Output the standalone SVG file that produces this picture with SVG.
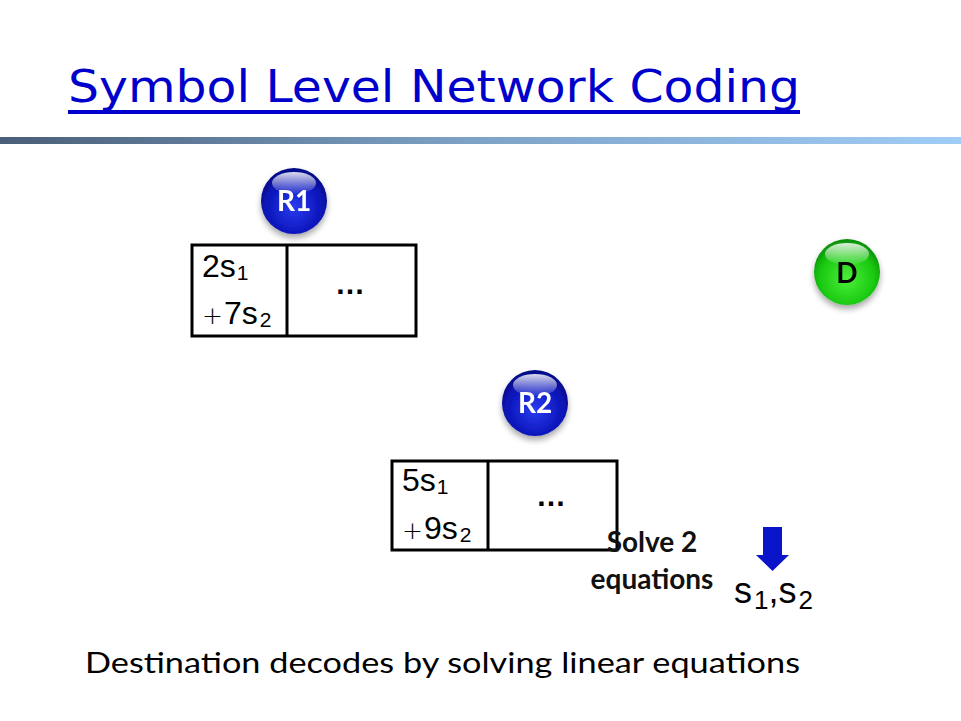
<svg xmlns="http://www.w3.org/2000/svg" width="961" height="721" viewBox="0 0 961 721">
<defs>
<linearGradient id="bar" x1="0" y1="0" x2="1" y2="0">
<stop offset="0" stop-color="#4a5f78"/>
<stop offset="0.5" stop-color="#7ea3c8"/>
<stop offset="1" stop-color="#a0cdf6"/>
</linearGradient>
<radialGradient id="blue" cx="0.5" cy="0.6" r="0.6">
<stop offset="0" stop-color="#2a3cf0"/>
<stop offset="0.7" stop-color="#0a14b8"/>
<stop offset="1" stop-color="#050c80"/>
</radialGradient>
<radialGradient id="green" cx="0.5" cy="0.6" r="0.6">
<stop offset="0" stop-color="#4cf03a"/>
<stop offset="0.7" stop-color="#18c810"/>
<stop offset="1" stop-color="#0a8a06"/>
</radialGradient>
<linearGradient id="gloss" x1="0" y1="0" x2="0" y2="1">
<stop offset="0" stop-color="#fff" stop-opacity="0.85"/>
<stop offset="1" stop-color="#fff" stop-opacity="0.05"/>
</linearGradient>
<filter id="sh" x="-30%" y="-30%" width="160%" height="170%">
<feGaussianBlur in="SourceAlpha" stdDeviation="3"/>
<feOffset dy="4"/>
<feComponentTransfer><feFuncA type="linear" slope="0.35"/></feComponentTransfer>
<feMerge><feMergeNode/><feMergeNode in="SourceGraphic"/></feMerge>
</filter>
</defs>
<style>
.title{font-family:"DejaVu Sans",sans-serif;font-size:44px;fill:#0000cc}
.box{fill:none;stroke:#000;stroke-width:3}
.eq{font-family:"Liberation Sans",Arial,sans-serif;fill:#000}
.big{font-size:32px}
.sub{font-size:21px}
.plus{font-size:25px;font-family:"DejaVu Sans",sans-serif;font-weight:200}
.dots{font-family:"Liberation Sans",Arial,sans-serif;font-size:30px;font-weight:bold;fill:#000}
.nlab{font-family:"Lato","Open Sans",sans-serif;font-weight:bold;font-size:28px;text-anchor:middle}
.solve{font-family:"Lato","Open Sans",sans-serif;font-weight:bold;font-size:28px;fill:#111;text-anchor:middle}
.res{font-size:36px}
.rsub{font-size:26px}
.foot{font-family:"Lato","Open Sans",sans-serif;font-size:28px;fill:#000}
</style>
<rect width="961" height="721" fill="#fff"/>
<text class="title" x="68" y="102" textLength="732" lengthAdjust="spacingAndGlyphs">Symbol Level Network Coding</text>
<rect x="68" y="110" width="732" height="4" fill="#0000cc"/>
<rect x="0" y="137" width="961" height="7" fill="url(#bar)"/>

<g id="R1" filter="url(#sh)">
<circle cx="294" cy="201" r="33" fill="url(#blue)"/>
<ellipse cx="294" cy="183" rx="22" ry="11" fill="url(#gloss)"/>
<text class="nlab" x="294" y="211" fill="#fff">R1</text>
</g>
<g id="R2" filter="url(#sh)">
<circle cx="535" cy="403" r="33" fill="url(#blue)"/>
<ellipse cx="535" cy="385" rx="22" ry="11" fill="url(#gloss)"/>
<text class="nlab" x="535" y="413" fill="#fff">R2</text>
</g>
<g id="D" filter="url(#sh)">
<circle cx="847" cy="272" r="33" fill="url(#green)"/>
<ellipse cx="847" cy="254" rx="22" ry="11" fill="url(#gloss)"/>
<text class="nlab" x="847" y="283" fill="#000">D</text>
</g>

<g id="packet1">
<rect class="box" x="192" y="245" width="224" height="91"/>
<line class="box" x1="287" y1="245" x2="287" y2="336"/>
<text class="eq big" x="202" y="277">2s<tspan class="sub" dx="1" dy="3">1</tspan></text>
<text class="eq big" x="202" y="324"><tspan class="plus">+</tspan><tspan dx="1">7s</tspan><tspan class="sub" dx="2" dy="3">2</tspan></text>
<text class="dots" x="335" y="294">…</text>
</g>
<g id="packet2">
<rect class="box" x="392" y="461" width="225" height="89"/>
<line class="box" x1="488" y1="461" x2="488" y2="550"/>
<text class="eq big" x="402" y="491">5s<tspan class="sub" dx="1" dy="3">1</tspan></text>
<text class="eq big" x="402" y="539"><tspan class="plus">+</tspan><tspan dx="1">9s</tspan><tspan class="sub" dx="2" dy="3">2</tspan></text>
<text class="dots" x="536" y="506">…</text>
</g>

<g id="solve">
<text class="solve" x="652" y="552">Solve 2</text>
<text class="solve" x="652" y="589">equations</text>
</g>
<g id="connectors">
<polygon points="763,527 782,527 782,555 789,555 772.5,571 756,555 763,555" fill="#0a14c8"/>
</g>
<g id="result">
<text class="eq res" x="734" y="603">s<tspan class="rsub" dx="2" dy="6">1</tspan><tspan dy="-6">,s</tspan><tspan class="rsub" dx="2" dy="6">2</tspan></text>
</g>
<text class="foot" x="85" y="673" textLength="715" lengthAdjust="spacingAndGlyphs">Destination decodes by solving linear equations</text>
</svg>
